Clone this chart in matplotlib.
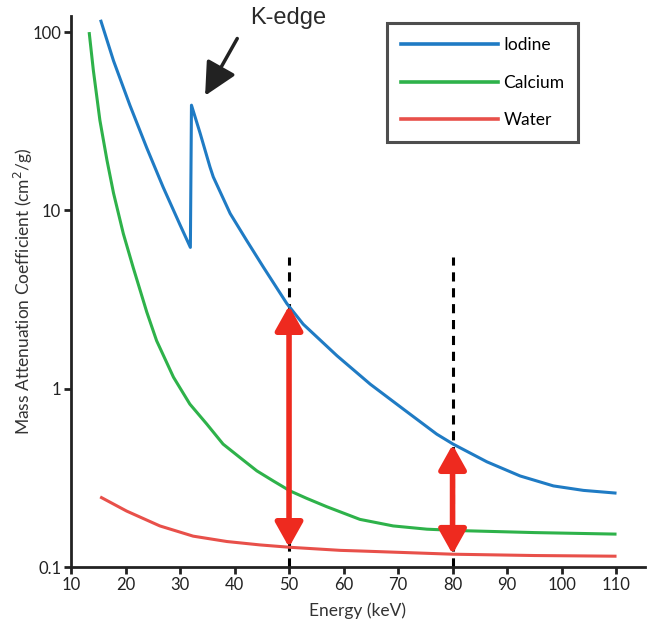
import numpy as np
import matplotlib
matplotlib.use("Agg")
import matplotlib.pyplot as plt

# values (energy in keV, mu/rho in cm2/g)
iodine_e = [15.5, 17.8, 20.8, 23.9, 26.9, 30.0, 31.9, 32.1, 33.7, 35.5,
            36.1, 39.2, 42.2, 45.3, 49.6, 52.6, 58.8, 64.9, 71.0, 77.1, 80.1,
            86.3, 92.4, 98.5, 104.0, 109.8]
iodine_mu = [115, 69, 38.9, 22.4, 13.5, 8.3, 6.2, 38.9, 27, 17.5,
             15.4, 9.6, 6.8, 4.8, 3.0, 2.3, 1.53, 1.06, 0.767, 0.556, 0.489,
             0.389, 0.324, 0.285, 0.269, 0.26]

calcium_e = [13.36, 14.1, 15.3, 16.6, 17.8, 19.6, 21.4, 22.7, 23.9, 25.7,
             28.8, 31.8, 34.9, 37.9, 41.0, 44.1, 47.1, 50.2, 53.2, 56.9,
             63.0, 69.1, 75.3, 81.4, 95, 109.8]
calcium_mu = [98, 61, 32, 19.1, 12.5, 7.4, 4.79, 3.55, 2.69, 1.86,
              1.16, 0.82, 0.634, 0.489, 0.411, 0.346, 0.304, 0.267, 0.243,
              0.218, 0.185, 0.170, 0.163, 0.160, 0.156, 0.153]

water_e = [15.6, 20.2, 26.3, 32.4, 38.6, 44.7, 50.2, 59.4, 63.0, 80.0, 95,
           109.8]
water_mu = [0.245, 0.206, 0.170, 0.149, 0.139, 0.133, 0.129, 0.124, 0.123,
            0.118, 0.116, 0.115]

marker_e = [50, 80]          # dashed guide lines
marker_top = 5.45
arrow_top = [2.92, 0.485]    # where the red arrows touch iodine
arrow_bot = [0.129, 0.118]   # ... and water
x_ticks = [10, 20, 30, 40, 50, 60, 70, 80, 90, 100, 110]
y_ticks = [0.1, 1, 10, 100]
y_tick_labels = ["0.1", "1", "10", "100"]

plt.rcParams["font.family"] = ["Lato", "DejaVu Sans"]

fig = plt.figure(figsize=(6.49, 6.28), dpi=100)
ax = fig.add_axes([0.1094, 0.0971, 0.8844, 0.8774])

ax.set_yscale("log")
ax.set_xlim(10, 115.3)
ax.set_ylim(0.1, 123)

blue = "#1f7bc4"
green = "#2eb24a"
red = "#e8504a"
arrow_red = "#ee2a1f"

# dashed guides
for e in marker_e:
    ax.plot([e, e], [0.1, marker_top], color="black", lw=2.2,
            dashes=(3, 2.2), zorder=2)

ax.plot(iodine_e, iodine_mu, color=blue, lw=2.2, label="Iodine", zorder=3)
ax.plot(calcium_e, calcium_mu, color=green, lw=2.2, label="Calcium", zorder=3)
ax.plot(water_e, water_mu, color=red, lw=2.2, label="Water", zorder=3)

# red double arrows between iodine and water
for e, top, bot in zip(marker_e, arrow_top, arrow_bot):
    ax.annotate("", xy=(e, bot), xytext=(e, top),
                arrowprops=dict(arrowstyle="<|-|>,head_width=0.42,head_length=0.75",
                                color=arrow_red, lw=4, mutation_scale=20,
                                shrinkA=0, shrinkB=0),
                zorder=4)

# K-edge annotation
ax.annotate("", xy=(34.6, 44), xytext=(40.5, 92),
            arrowprops=dict(arrowstyle="-|>,head_width=0.4,head_length=0.8",
                            color="#222222", lw=2.5, mutation_scale=25,
                            shrinkA=0, shrinkB=0),
            annotation_clip=False)
ax.text(49.8, 120, "K-edge", fontsize=17, ha="center", va="center",
        family=["Liberation Sans", "DejaVu Sans"], color="#2a2a2a",
        clip_on=False)

ax.set_xticks(x_ticks)
ax.set_yticks(y_ticks)
ax.set_yticklabels(y_tick_labels)
ax.yaxis.set_minor_locator(matplotlib.ticker.NullLocator())
ax.tick_params(axis="both", direction="out", length=5, width=2,
               labelsize=12, colors="#222222", pad=2)

for side in ["top", "right"]:
    ax.spines[side].set_visible(False)
for side in ["left", "bottom"]:
    ax.spines[side].set_linewidth(2)
    ax.spines[side].set_color("#222222")

ax.set_xlabel("Energy (keV)", fontsize=12.5, color="#333333", labelpad=7)
ax.set_ylabel("Mass Attenuation Coefficient (cm$^2$/g)", fontsize=12.5,
              color="#333333")
ax.yaxis.set_label_coords(-0.062, 0.5)

leg = ax.legend(loc="upper left", bbox_to_anchor=(387 / 649, 1 - 23 / 628),
                bbox_transform=fig.transFigure, frameon=True, fancybox=False,
                fontsize=12.5, handlelength=5.6, handletextpad=0.3,
                labelspacing=1.25, borderpad=0.8, borderaxespad=0)
leg.get_frame().set_edgecolor("#222222")
leg.get_frame().set_linewidth(2.2)
for line in leg.get_lines():
    line.set_linewidth(2.6)

fig.savefig("out.png", dpi=100)
